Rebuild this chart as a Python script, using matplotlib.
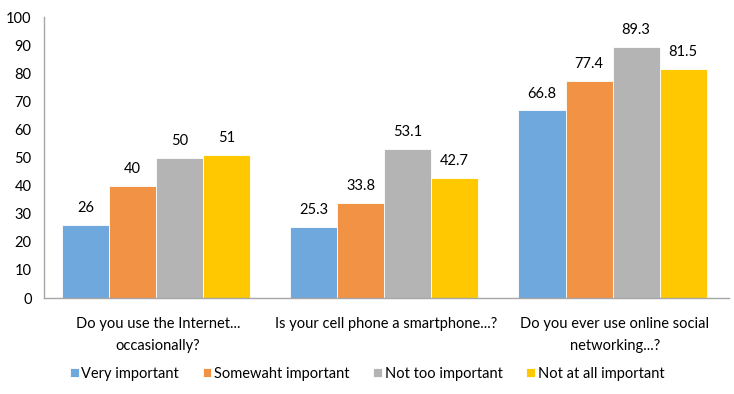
import matplotlib
matplotlib.use("Agg")
import matplotlib.pyplot as plt
import numpy as np

categories = ["Do you use the Internet...\noccasionally?",
              "Is your cell phone a smartphone...?",
              "Do you ever use online social\nnetworking...?"]
series_names = ["Very important", "Somewaht important", "Not too important", "Not at all important"]
very = [26, 25.3, 66.8]
somewhat = [40, 33.8, 77.4]
not_too = [50, 53.1, 89.3]
not_at_all = [51, 42.7, 81.5]
labels_txt = [["26", "25.3", "66.8"], ["40", "33.8", "77.4"], ["50", "53.1", "89.3"], ["51", "42.7", "81.5"]]
colors = ["#6FA8DC", "#F29244", "#B4B4B4", "#FFC800"]
yticks = list(range(0, 101, 10))

plt.rcParams['font.family'] = ['Lato', 'DejaVu Sans']

fig = plt.figure(figsize=(7.34, 3.94), dpi=100)
ax = fig.add_axes([44/734, 1-298/394, (729-44)/734, (298-17)/394])

x = np.arange(len(categories))
bw = 0.206
data = [very, somewhat, not_too, not_at_all]
for i, (vals, c, name) in enumerate(zip(data, colors, series_names)):
    pos = x + (i - 1.5) * bw - 0.01
    ax.bar(pos, vals, width=bw, color=c, label=name, edgecolor="white", linewidth=0.6)
    for p, v, t in zip(pos, vals, labels_txt[i]):
        ax.annotate(t, (p, v), xytext=(0, 7), textcoords="offset points",
                    ha="center", va="bottom", fontsize=10.5, color="black")

ax.set_xlim(-0.5, 2.5)
ax.set_ylim(0, 100)
ax.set_yticks(yticks)
ax.set_yticklabels([str(t) for t in yticks], fontsize=10.5)
ax.set_xticks(x)
ax.set_xticklabels(categories, fontsize=10.5, linespacing=1.7)
ax.tick_params(axis='both', length=0)
ax.tick_params(axis='x', pad=14)
ax.tick_params(axis='y', pad=9)
for s in ["top", "right"]:
    ax.spines[s].set_visible(False)
for s in ["left", "bottom"]:
    ax.spines[s].set_color("#A6A6A6")
    ax.spines[s].set_linewidth(1)

fig.legend(loc="center", bbox_to_anchor=(0.5, 1-374/394), ncol=4, frameon=False,
           fontsize=10.5, handlelength=0.6, handleheight=0.6, handletextpad=0.2,
           columnspacing=1.6)

fig.savefig("out.png", dpi=100)
